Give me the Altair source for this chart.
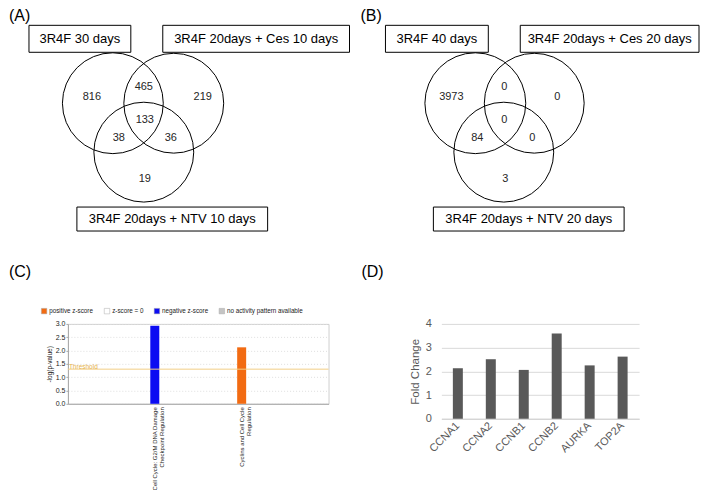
import altair as alt
import pandas as pd

# ---------------- data ----------------
# Panel A / B Venn diagrams
venn_a_sets = ["3R4F 30 days", "3R4F 20days + Ces 10 days", "3R4F 20days + NTV 10 days"]
venn_a_counts = [816, 465, 219, 133, 38, 36, 19]
venn_b_sets = ["3R4F 40 days", "3R4F 20days + Ces 20 days", "3R4F 20days + NTV 20 days"]
venn_b_counts = [3973, 0, 0, 0, 84, 0, 3]

# Panel C: IPA canonical pathways
pathways = ["Cell Cycle: G2/M DNA Damage|Checkpoint Regulation",
            "Cyclins and Cell Cycle|Regulation"]
neglogp = [2.93, 2.12]
pathway_z = ["negative z-score", "positive z-score"]
threshold = [1.3]
z_categories = ["positive z-score", "z-score = 0", "negative z-score", "no activity pattern available"]
z_colors = ["#f26b12", "#ffffff", "#0c0cf2", "#c4c4c4"]

# Panel D: fold change
genes = ["CCNA1", "CCNA2", "CCNB1", "CCNB2", "AURKA", "TOP2A"]
fold_change = [2.13, 2.51, 2.06, 3.59, 2.25, 2.62]

# ---------------- diagram layout (Venn geometry, page px) ----------------
circle_cx_a = [112, 173, 143]
circle_cx_b = [475, 534, 503.5]
circle_cy = [103, 103, 152]
circle_d = [101, 100, 100]
region_x_a = [91, 143, 202, 144, 118, 170, 144]
region_x_b = [451, 504, 557, 504, 477, 532, 505]
region_y = [97, 87, 97, 120, 138, 138, 179]
box_x_a = [(28, 130), (162, 349), (76, 267)]
box_x_b = [(385, 488), (520, 699), (433, 624)]
box_y = [(25, 52), (25, 52), (207, 231)]

FONT = "Liberation Sans"

# ---------------- top canvas: Venn diagrams ----------------
X = lambda f: alt.X(f, type="quantitative", scale=alt.Scale(domain=[67, 701]), axis=None)
Y = lambda f: alt.Y(f, type="quantitative", scale=alt.Scale(domain=[8, 263], reverse=True), axis=None)

circles = pd.DataFrame({
    "cx": circle_cx_a + circle_cx_b,
    "cy": circle_cy * 2,
    "s": [d * d for d in circle_d] * 2,
})
boxes = pd.DataFrame({
    "x1": [b[0] for b in box_x_a + box_x_b],
    "x2": [b[1] for b in box_x_a + box_x_b],
    "y1": [b[0] for b in box_y * 2],
    "y2": [b[1] for b in box_y * 2],
    "label": venn_a_sets + venn_b_sets,
})
boxes["xc"] = (boxes.x1 + boxes.x2) / 2
boxes["yc"] = (boxes.y1 + boxes.y2) / 2
counts = pd.DataFrame({
    "x": region_x_a + region_x_b,
    "y": region_y * 2,
    "n": [str(v) for v in venn_a_counts + venn_b_counts],
})
panel_ab = pd.DataFrame({"x": [8, 360], "y": [8, 8], "lab": ["(A)", "(B)"]})

circ_layer = alt.Chart(circles).mark_point(
    shape="circle", filled=False, color="black", strokeWidth=1, opacity=1
).encode(x=X("cx"), y=Y("cy"), size=alt.Size("s:Q", scale=None))
box_layer = alt.Chart(boxes).mark_rect(fill="white", stroke="black", strokeWidth=1).encode(
    x=X("x1"), x2="x2", y=Y("y1"), y2="y2")
box_text = alt.Chart(boxes).mark_text(fontSize=13, font=FONT, fill="#000000").encode(
    x=X("xc"), y=Y("yc"), text="label:N")
count_text = alt.Chart(counts).mark_text(fontSize=11, font=FONT, fill="#262626").encode(
    x=X("x"), y=Y("y"), text="n:N")
ab_text = alt.Chart(panel_ab).mark_text(fontSize=16, font=FONT, align="left", baseline="top",
                                        fill="#000000").encode(x=X("x"), y=Y("y"), text="lab:N")

canvas = alt.layer(circ_layer, box_layer, box_text, count_text, ab_text).properties(
    width=634, height=255)

# ---------------- panel C ----------------
c_y = alt.Y("value:Q", scale=alt.Scale(domain=[0, 3]),
            axis=alt.Axis(title="-log(p-value)", values=[0, 0.5, 1, 1.5, 2, 2.5, 3], format=".1f",
                          labelFontSize=7, labelColor="#222222", labelPadding=1, tickSize=2,
                          labelOverlap=False, grid=True,
                          tickColor="#a8a8a8", domainColor="#a8a8a8", gridColor="#dedede",
                          gridDash=[1, 2], titleFontSize=6.5, titleFontWeight="normal",
                          titlePadding=3, titleColor="#222222"))
c_df = pd.DataFrame({"pathway": pathways, "value": neglogp, "z": pathway_z})
c_bars = alt.Chart(c_df).mark_bar(size=9).encode(
    x=alt.X("pathway:N", sort=pathways,
            scale=alt.Scale(paddingInner=0, paddingOuter=0.5),
            axis=alt.Axis(title=None, labelAngle=270, labelAlign="right", labelBaseline="middle",
                          labelExpr="split(datum.label, '|')", labelFontSize=6, labelLineHeight=7.5,
                          labelPadding=3, ticks=False, domainColor="#a8a8a8", labelColor="#222222")),
    y=c_y,
    color=alt.Color("z:N", scale=alt.Scale(domain=z_categories, range=z_colors),
                    legend=alt.Legend(orient="none", legendX=-27, legendY=-16, direction="horizontal",
                                      title=None, symbolType="square", symbolSize=30,
                                      symbolStrokeColor="#aaaaaa", symbolStrokeWidth=0.5,
                                      labelFontSize=6.3, labelColor="#222222", columnPadding=9,
                                      labelOffset=2)),
)
c_rule = alt.Chart(pd.DataFrame({"value": threshold})).mark_rule(color="#f2cf86", strokeWidth=1).encode(
    y=c_y)
c_thr_text = alt.Chart(pd.DataFrame({"value": threshold, "t": ["Threshold"]})).mark_text(
    align="left", baseline="bottom", fontSize=6.5, font=FONT, color="#e6b24a", dx=1, dy=1
).encode(y=c_y, x=alt.value(0), text="t:N")
c_lab = alt.Chart(pd.DataFrame({"lab": ["(C)"]})).mark_text(
    align="left", baseline="top", fontSize=16, font=FONT, color="black"
).encode(x=alt.value(-59), y=alt.value(-60), text="lab:N")

panel_c = alt.layer(c_bars, c_rule, c_thr_text, c_lab).properties(
    width=261, height=80, view=alt.ViewBackground(stroke="#cfcfcf"))

# ---------------- panel D ----------------
d_df = pd.DataFrame({"gene": genes, "fold": fold_change})
d_bars = alt.Chart(d_df).mark_bar(size=10, color="#595959").encode(
    x=alt.X("gene:N", sort=genes,
            axis=alt.Axis(title=None, labelAngle=315, labelAlign="right", labelBaseline="middle",
                          labelFontSize=11, labelColor="#595959", ticks=False,
                          domainColor="#d0d0d0", labelPadding=5)),
    y=alt.Y("fold:Q", scale=alt.Scale(domain=[0, 4]),
            axis=alt.Axis(title="Fold Change", values=[0, 1, 2, 3, 4], domain=False, ticks=False,
                          gridColor="#d9d9d9", labelFontSize=11, labelColor="#595959",
                          labelPadding=10, titleFontSize=11.5, titleFontWeight="normal",
                          titleColor="#595959", titlePadding=5)),
)
d_lab = alt.Chart(pd.DataFrame({"lab": ["(D)"]})).mark_text(
    align="left", baseline="top", fontSize=16, font=FONT, color="black"
).encode(x=alt.value(-80), y=alt.value(-60), text="lab:N")

panel_d = alt.layer(d_bars, d_lab).properties(width=198, height=95)

bottom = alt.hconcat(panel_c, panel_d, spacing=32).resolve_scale(color="independent").resolve_legend(
    color="independent")

chart = alt.vconcat(
    canvas,
    bottom,
    spacing=0,
).resolve_scale(color="independent").resolve_legend(color="independent").properties(
    padding=0).configure(font=FONT).configure_view(stroke=None)

chart.save("out.html", embed_options={"renderer": "svg", "actions": False})
